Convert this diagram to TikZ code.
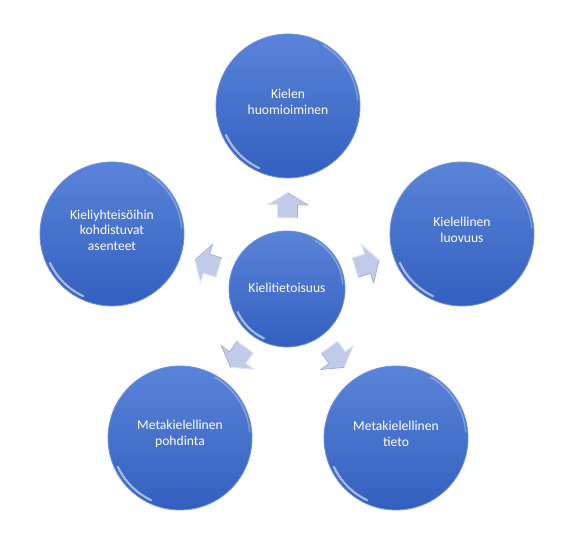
\documentclass[tikz,border=0pt]{standalone}
\usepackage{fontspec}
\setmainfont{Carlito}
\usetikzlibrary{calc}
\definecolor{ctop}{HTML}{5A84D8}
\definecolor{cbot}{HTML}{335FC0}
\definecolor{crim}{HTML}{6F92DC}
\definecolor{afill}{HTML}{C2CAE9}
\definecolor{aedge}{HTML}{E2E6F4}
\definecolor{adark}{HTML}{A3ADD3}
\tikzset{
  bubble/.style={circle, shading=axis, top color=ctop, bottom color=cbot, draw=crim, line width=0.8pt,
    inner sep=0pt},
  outer/.style={bubble, minimum size=144pt},
  inner/.style={bubble, minimum size=116pt},
  label/.style={text=white, align=center, font=\fontsize{13.6}{15.5}\selectfont},
  arrfill/.style={fill=afill, draw=aedge, line width=0.9pt, line join=miter},
  gloss/.style={white, opacity=0.55, line width=2.2pt, line cap=round},
}
\newcommand\petarrow[2]{%
  \pgfmathanglebetweenpoints{\pgfpointanchor{#1}{center}}{\pgfpointanchor{#2}{center}}%
  \edef\myang{\pgfmathresult}%
  \begin{scope}[shift={($(#1)!0.455!(#2)$)}, rotate=\myang]
    \path[arrfill] (-12,-10) -- (1,-10) -- (1,-20) -- (13,0) -- (1,20) -- (1,10) -- (-12,10) -- cycle;
    \draw[adark, line width=0.8pt] (-12,-10) -- (1,-10) -- (1,-20) -- (13,0);
  \end{scope}}
\newcommand\glossy[2]{%
  \draw[gloss] ($(#1)+(205:#2-3.5)$) arc (205:245:#2-3.5);
  \draw[gloss, opacity=0.3, line width=1.4pt] ($(#1)+(5:#2-2)$) arc (5:60:#2-2);}
\begin{document}
\begin{tikzpicture}[x=1pt,y=1pt]
\useasboundingbox (0,0) rectangle (578,543);
\coordinate (c) at (287,254);
\coordinate (t) at (288,437);
\coordinate (l) at (112,309);
\coordinate (r) at (462,309);
\coordinate (bl) at (180,105);
\coordinate (br) at (396,105);

\node[inner] (nc) at (c) {};
\node[outer] (nt) at (t) {};
\node[outer] (nl) at (l) {};
\node[outer] (nr) at (r) {};
\node[outer] (nbl) at (bl) {};
\node[outer] (nbr) at (br) {};

\glossy{c}{58}
\glossy{t}{72}
\glossy{l}{72}
\glossy{r}{72}
\glossy{bl}{72}
\glossy{br}{72}

\node[label] (tc) at ($(c)+(0,1)$) {Kielitietoisuus};
\node[label] (tt) at ($(t)+(0,4)$) {Kielen\\huomioiminen};
\node[label] (tl) at ($(l)+(0,4)$) {Kieliyhteisöihin\\kohdistuvat\\asenteet};
\node[label] (tr) at ($(r)+(0,4)$) {Kielellinen\\luovuus};
\node[label] (tbl) at ($(bl)+(0,4)$) {Metakielellinen\\pohdinta};
\node[label] (tbr) at ($(br)+(0,4)$) {Metakielellinen\\tieto};

\petarrow{c}{t}
\petarrow{c}{l}
\petarrow{c}{r}
\petarrow{c}{bl}
\petarrow{c}{br}
\end{tikzpicture}
\end{document}
